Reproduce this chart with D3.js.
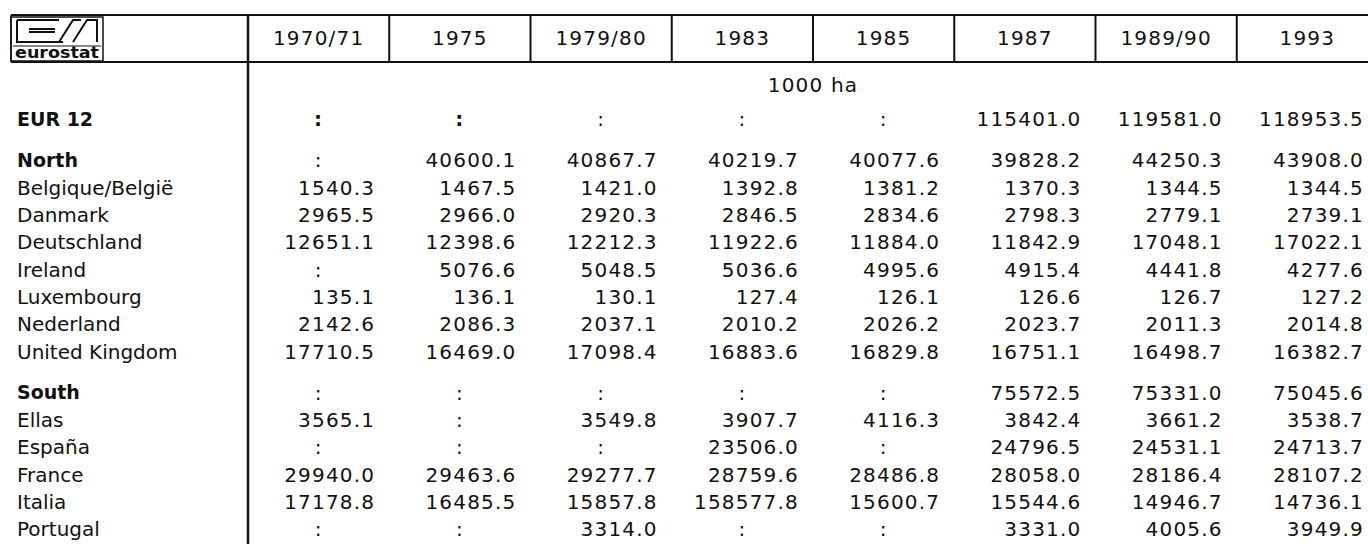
<!DOCTYPE html>
<html>
<head>
<meta charset="utf-8">
<script src="https://cdn.jsdelivr.net/npm/d3@7"></script>
<style>
  body { margin: 0; background: #fff; }
  text { font-family: "DejaVu Sans", sans-serif; fill: #111; }
</style>
</head>
<body>
<div id="chart"></div>
<script>
// column headings and row labels
const years = ["1970/71", "1975", "1979/80", "1983", "1985", "1987", "1989/90", "1993"];
const rowLabels = ["EUR 12", "North", "Belgique/België", "Danmark", "Deutschland", "Ireland",
  "Luxembourg", "Nederland", "United Kingdom", "South", "Ellas", "España", "France", "Italia", "Portugal"];
const groupRows = ["EUR 12", "North", "South"];
const unitLabel = "1000 ha";

// values in 1000 ha, null = ":" (not available)
const eur12       = [null, null, null, null, null, 115401.0, 119581.0, 118953.5];
const north       = [null, 40600.1, 40867.7, 40219.7, 40077.6, 39828.2, 44250.3, 43908.0];
const belgique    = [1540.3, 1467.5, 1421.0, 1392.8, 1381.2, 1370.3, 1344.5, 1344.5];
const danmark     = [2965.5, 2966.0, 2920.3, 2846.5, 2834.6, 2798.3, 2779.1, 2739.1];
const deutschland = [12651.1, 12398.6, 12212.3, 11922.6, 11884.0, 11842.9, 17048.1, 17022.1];
const ireland     = [null, 5076.6, 5048.5, 5036.6, 4995.6, 4915.4, 4441.8, 4277.6];
const luxembourg  = [135.1, 136.1, 130.1, 127.4, 126.1, 126.6, 126.7, 127.2];
const nederland   = [2142.6, 2086.3, 2037.1, 2010.2, 2026.2, 2023.7, 2011.3, 2014.8];
const unitedKingdom = [17710.5, 16469.0, 17098.4, 16883.6, 16829.8, 16751.1, 16498.7, 16382.7];
const south       = [null, null, null, null, null, 75572.5, 75331.0, 75045.6];
const ellas       = [3565.1, null, 3549.8, 3907.7, 4116.3, 3842.4, 3661.2, 3538.7];
const espana      = [null, null, null, 23506.0, null, 24796.5, 24531.1, 24713.7];
const france      = [29940.0, 29463.6, 29277.7, 28759.6, 28486.8, 28058.0, 28186.4, 28107.2];
const italia      = [17178.8, 16485.5, 15857.8, 158577.8, 15600.7, 15544.6, 14946.7, 14736.1];
const portugal    = [null, null, 3314.0, null, null, 3331.0, 4005.6, 3949.9];

const values = [eur12, north, belgique, danmark, deutschland, ireland, luxembourg,
  nederland, unitedKingdom, south, ellas, espana, france, italia, portugal];

const width = 1368, height = 544;
const svg = d3.select("#chart").append("svg")
  .attr("width", width)
  .attr("height", height);

// columns
const x = d3.scaleBand()
  .domain(years)
  .range([248, 1378])
  .padding(0);

// rows: one slot per row, half a slot extra before each new block
let gaps = 0;
const slots = rowLabels.map((r, i) => {
  if (i > 0 && groupRows.includes(r)) gaps += 0.5;
  return i + gaps;
});
const y = d3.scaleLinear()
  .domain([0, 15])
  .range([119, 529]);

const headTop = 15, headBottom = 62;
const ink = "#111";

// header frame
svg.append("line").attr("x1", 11).attr("x2", width).attr("y1", headTop).attr("y2", headTop)
  .attr("stroke", ink).attr("stroke-width", 2);
svg.append("line").attr("x1", 11).attr("x2", width).attr("y1", headBottom).attr("y2", headBottom)
  .attr("stroke", ink).attr("stroke-width", 2);
svg.append("line").attr("x1", 11).attr("x2", 11).attr("y1", headTop).attr("y2", headBottom)
  .attr("stroke", ink).attr("stroke-width", 1.5);

svg.selectAll("line.col")
  .data(years)
  .enter()
  .append("line")
  .attr("class", "col")
  .attr("x1", d => x(d))
  .attr("x2", d => x(d))
  .attr("y1", headTop)
  .attr("y2", (d, i) => i === 0 ? height : headBottom)
  .attr("stroke", ink)
  .attr("stroke-width", (d, i) => i === 0 ? 2.5 : 2);

// year headings
svg.selectAll("text.year")
  .data(years)
  .enter()
  .append("text")
  .attr("class", "year")
  .attr("x", d => x(d) + x.bandwidth() / 2)
  .attr("y", 38)
  .attr("dy", "0.36em")
  .attr("text-anchor", "middle")
  .style("font-size", "20px")
  .style("letter-spacing", "1.2px")
  .text(d => d);

// unit
svg.append("text")
  .attr("x", (x.range()[0] + x.range()[1]) / 2)
  .attr("y", 85)
  .attr("dy", "0.36em")
  .attr("text-anchor", "middle")
  .style("font-size", "20px")
  .style("letter-spacing", "1.2px")
  .text(unitLabel);

// eurostat logo
const logo = svg.append("g").attr("transform", "translate(11,17)");
logo.append("rect").attr("width", 92).attr("height", 44)
  .attr("fill", "none").attr("stroke", ink).attr("stroke-width", 1.5);
logo.append("line").attr("x1", 2).attr("x2", 90).attr("y1", 29).attr("y2", 29)
  .attr("stroke", ink).attr("stroke-width", 1);
logo.append("path")
  .attr("d", "M6,3 H48 M6,3 V25 H52 M18,12 H44 M18,15 H44 M48,25 L62,3 H70 M62,25 L76,3 H86 V25")
  .attr("fill", "none").attr("stroke", ink).attr("stroke-width", 2);
logo.append("text")
  .attr("x", 4).attr("y", 41)
  .attr("textLength", 84)
  .attr("lengthAdjust", "spacingAndGlyphs")
  .style("font-size", "15px")
  .style("font-weight", "bold")
  .text("eurostat");

// row labels
svg.selectAll("text.label")
  .data(rowLabels)
  .enter()
  .append("text")
  .attr("class", "label")
  .attr("x", 17)
  .attr("y", (d, i) => y(slots[i]))
  .attr("dy", "0.36em")
  .style("font-size", d => groupRows.includes(d) ? "19px" : "20px")
  .style("font-weight", d => groupRows.includes(d) ? "bold" : "normal")
  .text(d => d);

// cells
const cells = [];
values.forEach((row, i) => {
  row.forEach((v, j) => cells.push({ row: i, year: years[j], col: j, value: v }));
});

svg.selectAll("text.cell")
  .data(cells)
  .enter()
  .append("text")
  .attr("class", "cell")
  .attr("x", d => d.value === null ? x(d.year) + x.bandwidth() / 2 : x(d.year) + x.bandwidth() - 14)
  .attr("y", d => y(slots[d.row]))
  .attr("dy", "0.36em")
  .attr("text-anchor", d => d.value === null ? "middle" : "end")
  .style("font-size", "20px")
  .style("letter-spacing", "1.2px")
  .style("font-weight", d => d.value === null && d.row === 0 && d.col < 2 ? "bold" : "normal")
  .text(d => d.value === null ? ":" : d.value.toFixed(1));
</script>
</body>
</html>
